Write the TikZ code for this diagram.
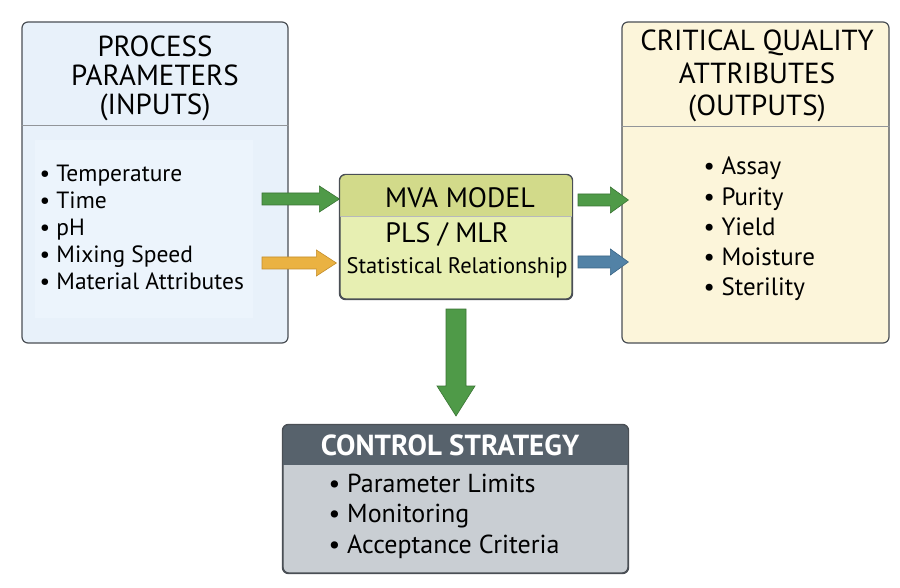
\documentclass[tikz,border=0pt]{standalone}
\usepackage{fontspec}
\setmainfont{PT Sans}
\usetikzlibrary{calc}
\definecolor{bordc}{HTML}{4A4F55}
\definecolor{leftfill}{HTML}{E8F1FA}
\definecolor{leftin}{HTML}{ECF4FC}
\definecolor{rightfill}{HTML}{FCF5DA}
\definecolor{midhdr}{HTML}{D2DA8A}
\definecolor{midbody}{HTML}{E7EFB2}
\definecolor{ctrlhdr}{HTML}{57626C}
\definecolor{ctrlbody}{HTML}{C9CED3}
\definecolor{greenf}{HTML}{4F9A48}
\definecolor{greend}{HTML}{3A7434}
\definecolor{orangef}{HTML}{EAB242}
\definecolor{oranged}{HTML}{C38D2B}
\definecolor{bluef}{HTML}{5282A6}
\definecolor{blued}{HTML}{3B6586}
\newcommand{\harrow}[6]{%
 \draw[#6] ($(#1)+(0,#3)$) -- ($(#2)+(-#5,#3)$) -- ($(#2)+(-#5,#4)$) -- (#2) -- ($(#2)+(-#5,-#4)$) -- ($(#2)+(-#5,-#3)$) -- ($(#1)+(0,-#3)$) -- cycle;}
\newcommand{\varrow}[6]{%
 \draw[#6] ($(#1)+(#3,0)$) -- ($(#2)+(#3,-#5)$) -- ($(#2)+(#4,-#5)$) -- (#2) -- ($(#2)+(-#4,-#5)$) -- ($(#2)+(-#3,-#5)$) -- ($(#1)+(-#3,0)$) -- cycle;}
\begin{document}
\begin{tikzpicture}[x=1pt,y=-1pt,
  panel/.style={draw=bordc, line width=1.2pt, rounded corners=6pt, inner sep=0pt},
  divider/.style={draw=bordc!60, line width=0.8pt},
  titletext/.style={align=center, font=\fontsize{29}{29}\selectfont, text=black},
  listtext/.style={align=left, anchor=west, font=\fontsize{23.5}{27}\selectfont, text=black},
  greenarrow/.style={fill=greenf, draw=greend, line width=0.6pt},
  orangearrow/.style={fill=orangef, draw=oranged, line width=0.6pt},
  bluearrow/.style={fill=bluef, draw=blued, line width=0.6pt}]
\useasboundingbox[fill=white] (0,0) rectangle (900,588);

% Left panel
\node[panel, fill=leftfill, minimum width=266pt, minimum height=321pt] (left) at (155,182.5) {};
\fill[leftin] (35,140) rectangle (253,318);
\draw[divider] (left.west |- 0,125) -- (left.east |- 0,125);
\node[titletext] (lefttitle) at (155,78) {PROCESS\\PARAMETERS\\(INPUTS)};
\node[listtext] (leftlist) at (36,227) {• Temperature\\• Time\\• pH\\• Mixing Speed\\• Material Attributes};

% Right panel
\node[panel, fill=rightfill, minimum width=267pt, minimum height=321pt] (right) at (755.5,182.5) {};
\draw[divider] (right.west |- 0,126) -- (right.east |- 0,126);
\node[titletext, font=\fontsize{29}{32.5}\selectfont] (righttitle) at (757,76) {CRITICAL QUALITY\\ATTRIBUTES\\(OUTPUTS)};
\node[listtext, font=\fontsize{25}{30.3}\selectfont] (rightlist) at (700,229) {• Assay\\• Purity\\• Yield\\• Moisture\\• Sterility};

% Middle panel
\node[panel, fill=midbody, minimum width=232pt, minimum height=124pt] (mid) at (456,237) {};
\begin{scope}
\clip[rounded corners=6pt] (340,175) rectangle (572,299);
\fill[midhdr] (340,175) rectangle (572,216);
\end{scope}
\draw[divider, draw=bordc!40] (340,216) -- (572,216);
\draw[draw=bordc, line width=1.2pt, rounded corners=6pt] (mid.north west) rectangle (mid.south east);
\node[font=\fontsize{28}{30}\selectfont] (mvatitle) at (460,198) {MVA MODEL};
\node[font=\fontsize{28}{30}\selectfont] (pls) at (447,234) {PLS / MLR};
\node[font=\fontsize{22.5}{24}\selectfont] (stat) at (457,268) {Statistical Relationship};

% Bottom panel
\node[panel, fill=ctrlbody, minimum width=345pt, minimum height=148pt] (ctrl) at (455.5,499) {};
\begin{scope}
\clip[rounded corners=6pt] (283,425) rectangle (628,573);
\fill[ctrlhdr] (283,425) rectangle (628,465);
\end{scope}
\draw[draw=bordc, line width=1.2pt, rounded corners=6pt] (ctrl.north west) rectangle (ctrl.south east);
\node[font=\bfseries\fontsize{29}{30}\selectfont, text=white] (ctrltitle) at (450,445) {CONTROL STRATEGY};
\node[listtext, font=\fontsize{26}{30.5}\selectfont] (ctrllist) at (325,516) {• Parameter Limits\\• Monitoring\\• Acceptance Criteria};

% Arrows
\coordinate (a1s) at (262,199);
\coordinate (a1e) at (mid.west |- a1s);
\coordinate (a2s) at (262,263);
\coordinate (a2e) at ([xshift=-3pt]mid.west |- a2s);
\coordinate (b1s) at (578,200);
\coordinate (b1e) at ([xshift=7pt]right.west |- b1s);
\coordinate (b2s) at (578,262);
\coordinate (b2e) at ([xshift=7pt]right.west |- b2s);
\coordinate (cs) at (456,309);
\coordinate (ce) at (456,416);
\harrow{a1s}{a1e}{6}{13}{20}{greenarrow}
\harrow{a2s}{a2e}{6}{13}{20}{orangearrow}
\harrow{b1s}{b1e}{6}{13}{18}{greenarrow}
\harrow{b2s}{b2e}{6}{13}{18}{bluearrow}
\varrow{cs}{ce}{10}{19}{30}{greenarrow}
\end{tikzpicture}
\end{document}
